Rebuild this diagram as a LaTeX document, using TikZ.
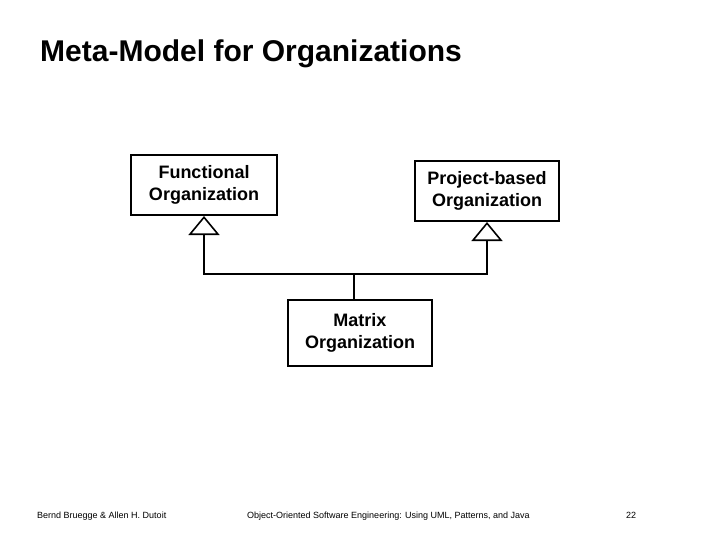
\documentclass[tikz,border=0pt]{standalone}
\usepackage{fontspec}
\setmainfont{Liberation Sans}
\usetikzlibrary{arrows.meta}
\begin{document}
\begin{tikzpicture}[x=1pt,y=-1pt,
 classbox/.style={draw=black,line width=2pt,fill=white,minimum width=146pt,align=center,font=\fontsize{18}{22}\selectfont\bfseries},
 inherit/.style={draw=black,line width=2pt,-{Triangle[open,length=19pt,width=31pt,line width=1.6pt]}},
 footnote/.style={anchor=base west,inner sep=0pt,font=\fontsize{9}{10}\selectfont}]
 \useasboundingbox (0,0) rectangle (720,540);
 \node (title) at (40,62) [anchor=base west,inner sep=0pt,font=\fontsize{30}{34}\selectfont\bfseries] {Meta-Model for Organizations};
 \node (fun) at (204,185) [classbox,minimum height=60pt] {Functional\\Organization};
 \node (proj) at (487,191) [classbox,minimum width=144pt,minimum height=60pt] {Project-based\\Organization};
 \node (mat) at (360,333) [classbox,minimum width=144pt,minimum height=66pt] {Matrix\\Organization};
 \coordinate (join) at (354,274);
 \draw[line width=2pt] ([xshift=-6pt]mat.north) -- (join);
 \draw[inherit] (join) -| (fun.south);
 \draw[inherit] (join) -| (proj.south);
 \node (authors) at (37,518) [footnote] {Bernd Bruegge \& Allen H. Dutoit};
 \node (book) at (247,518) [footnote] {Object-Oriented Software Engineering: Using UML, Patterns, and Java};
 \node (page) at (626,518) [footnote] {22};
\end{tikzpicture}
\end{document}
